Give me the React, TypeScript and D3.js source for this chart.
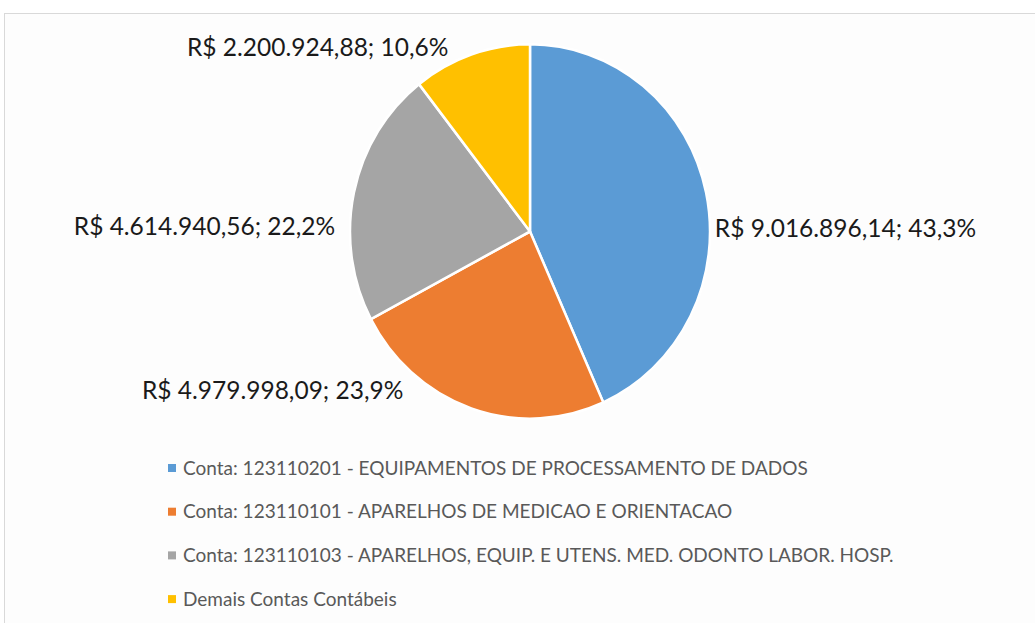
import React, { useEffect, useRef } from 'react';
import * as d3 from 'd3';

const categories = [
  'Conta: 123110201 - EQUIPAMENTOS DE PROCESSAMENTO DE DADOS',
  'Conta: 123110101 - APARELHOS DE MEDICAO E ORIENTACAO',
  'Conta: 123110103 - APARELHOS, EQUIP. E UTENS. MED. ODONTO LABOR. HOSP.',
  'Demais Contas Contábeis',
];
const values = [9016896.14, 4979998.09, 4614940.56, 2200924.88];
const valueLabels = ['R$ 9.016.896,14', 'R$ 4.979.998,09', 'R$ 4.614.940,56', 'R$ 2.200.924,88'];
const percentLabels = ['43,3%', '23,9%', '22,2%', '10,6%'];
const colors = ['#5b9bd5', '#ed7d31', '#a5a5a5', '#ffc000'];

const App = () => {
  const ref = useRef<SVGSVGElement | null>(null);

  useEffect(() => {
    const W = 1035;
    const H = 623;
    const cx = 530;
    const cy = 231.5;
    const r = 180;
    const stretchY = 1.04; // the source picture is slightly taller than wide

    const svg = d3.select(ref.current);
    svg.selectAll('*').remove();

    // frame
    svg.append('rect').attr('width', W).attr('height', H).attr('fill', '#ffffff');
    svg.append('rect')
      .attr('x', 4.5).attr('y', 13.5)
      .attr('width', W + 10).attr('height', H)
      .attr('fill', '#fdfdfd')
      .attr('stroke', '#d9d9d9')
      .attr('stroke-width', 1);

    const g = svg.append('g').attr('transform', `translate(${cx},${cy})`);

    const pie = d3.pie<number>().sort(null).value((d) => d);
    const arcs = pie(values);
    const arc = d3.arc<d3.PieArcDatum<number>>().innerRadius(0).outerRadius(r);

    g.append('g')
      .attr('transform', `scale(1,${stretchY})`)
      .selectAll('path.slice')
      .data(arcs)
      .enter().append('path')
      .attr('class', 'slice')
      .attr('d', arc)
      .attr('fill', (_, i) => colors[i])
      .attr('stroke', '#ffffff')
      .attr('stroke-width', 2.5)
      .attr('stroke-linejoin', 'round');

    // data labels: placed outside the slice, nudged like Excel's best fit
    const labelArc = d3.arc<d3.PieArcDatum<number>>().innerRadius(r + 9).outerRadius(r + 9);
    const nudge = [[0, 36], [-65, -20], [-10, 34], [-20, -5]];
    arcs.forEach((a, i) => {
      const mid = (a.startAngle + a.endAngle) / 2;
      const [x, y] = labelArc.centroid(a);
      const right = Math.sin(mid) > 0;
      g.append('text')
        .attr('x', x + nudge[i][0])
        .attr('y', y + nudge[i][1])
        .attr('dy', '0.35em')
        .attr('text-anchor', right ? 'start' : 'end')
        .style('font-family', 'Lato, sans-serif')
        .style('font-size', '24.5px')
        .style('fill', '#1a1a1a')
        .text(`${valueLabels[i]}; ${percentLabels[i]}`);
    });

    // legend
    const legend = svg.append('g').attr('transform', 'translate(168,468)');
    const rows = legend.selectAll('g')
      .data(categories)
      .enter().append('g')
      .attr('transform', (_, i) => `translate(0,${i * 43.7})`);
    rows.append('rect')
      .attr('x', 0).attr('y', -4)
      .attr('width', 8).attr('height', 8)
      .attr('fill', (_, i) => colors[i]);
    rows.append('text')
      .attr('x', 15)
      .attr('dy', '0.35em')
      .style('font-family', 'Lato, sans-serif')
      .style('font-size', '19px')
      .style('fill', '#595959')
      .text((d) => d);
  }, []);

  return (
    <svg
      ref={ref}
      width={1035}
      height={623}
      style={{ position: 'absolute', left: 0, top: 0 }}
    />
  );
};

export default App;
